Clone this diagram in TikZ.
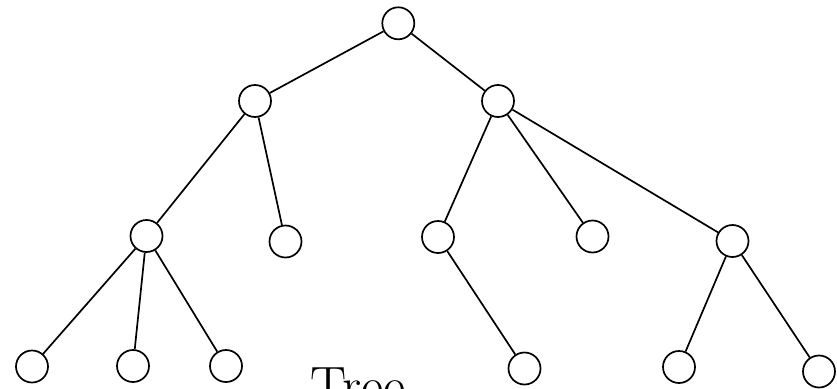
\documentclass[tikz,border=0pt]{standalone}
\begin{document}
\begin{tikzpicture}[x=1pt,y=-1pt,
  vertex/.style={circle,draw,line width=1.7pt,minimum size=32pt,inner sep=0pt},
  edge/.style={line width=1.7pt}]
\useasboundingbox (0,0) rectangle (837,388);
\node[vertex] (r) at (398.3,23.3) {};
\node[vertex] (a) at (255,101) {};
\node[vertex] (b) at (498,101) {};
\node[vertex] (a1) at (146.5,236) {};
\node[vertex] (a2) at (285.5,241.5) {};
\node[vertex] (b1) at (438,237) {};
\node[vertex] (b2) at (592.5,236.5) {};
\node[vertex] (b3) at (732.5,241) {};
\node[vertex] (a11) at (32,366.5) {};
\node[vertex] (a12) at (133,366) {};
\node[vertex] (a13) at (226,366) {};
\node[vertex] (b11) at (524.5,368.5) {};
\node[vertex] (b31) at (679,367) {};
\node[vertex] (b32) at (819,371.5) {};
\draw[edge] (r) -- (a);
\draw[edge] (r) -- (b);
\draw[edge] (a) -- (a1);
\draw[edge] (a) -- (a2);
\draw[edge] (b) -- (b1);
\draw[edge] (b) -- (b2);
\draw[edge] (b) -- (b3);
\draw[edge] (a1) -- (a11);
\draw[edge] (a1) -- (a12);
\draw[edge] (a1) -- (a13);
\draw[edge] (b1) -- (b11);
\draw[edge] (b3) -- (b31);
\draw[edge] (b3) -- (b32);
\node[anchor=base west,inner sep=0pt,font=\fontsize{54}{60}\selectfont] (t) at (310.5,404) {Tree};
\end{tikzpicture}
\end{document}
